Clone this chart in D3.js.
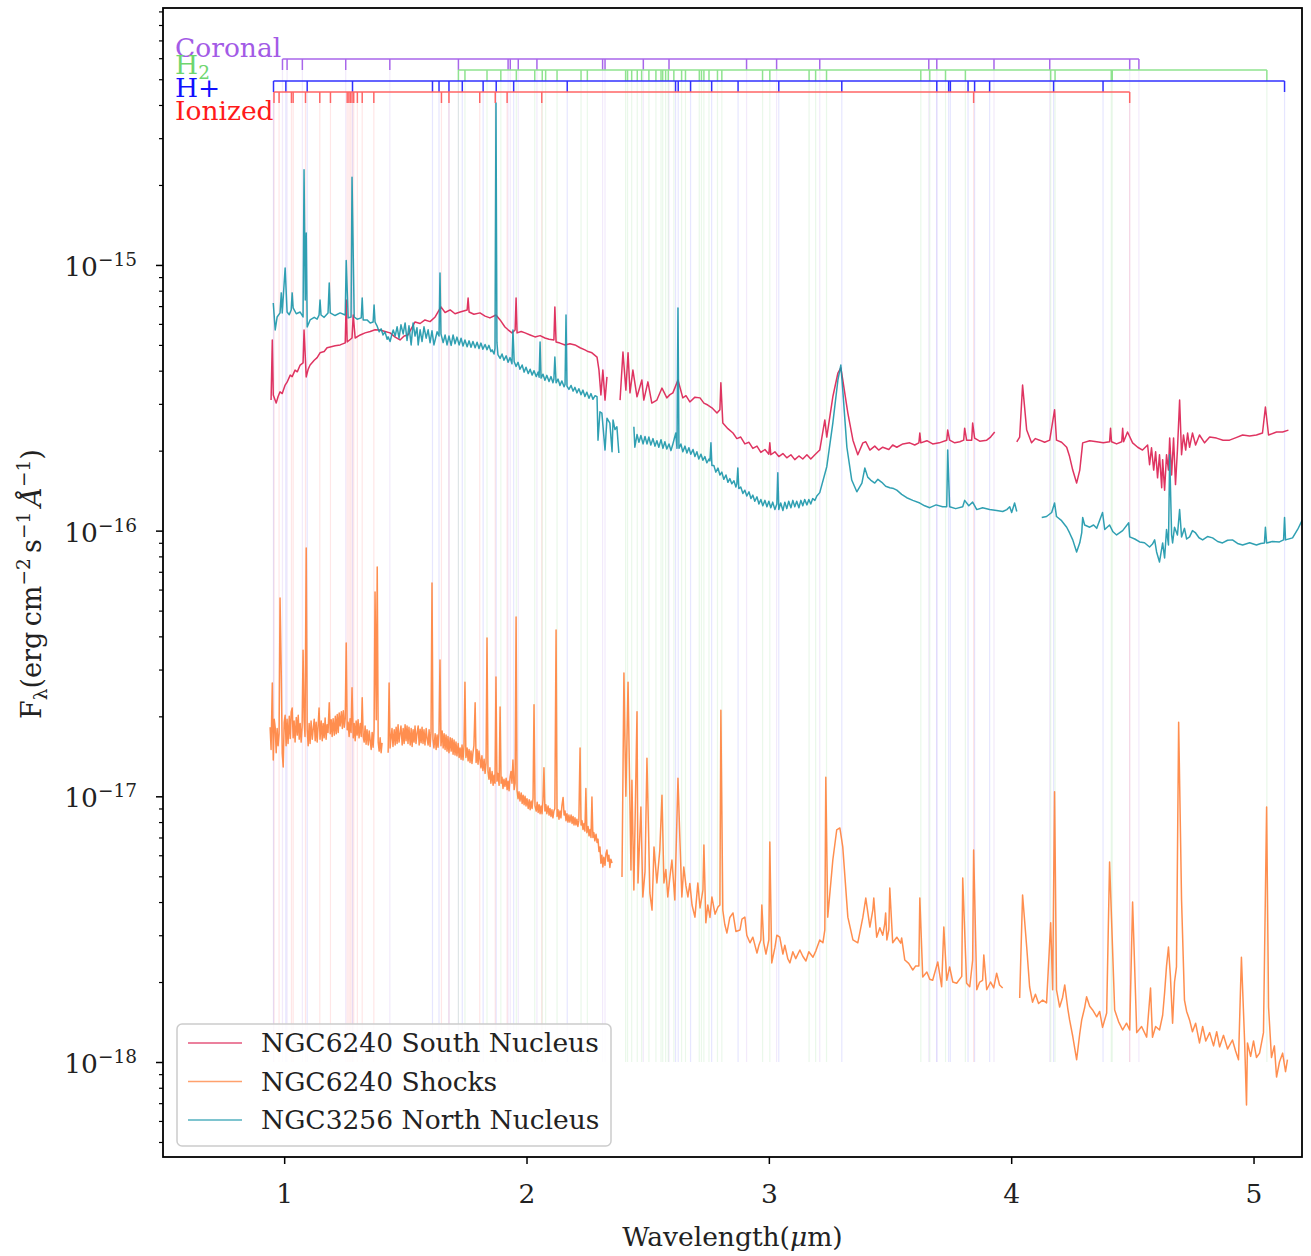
<!DOCTYPE html>
<html><head><meta charset="utf-8">
<script src="https://cdn.jsdelivr.net/npm/d3@7"></script>
<style>body{margin:0;background:#fff}svg{display:block}text{font-family:'DejaVu Serif',serif}</style>
</head><body><svg id="c" width="1311" height="1256"></svg>
<script>
// ---------- DATA ----------
const xDomain = [0.5, 5.2];
const yDomain = [4.39e-19, 9.27e-15];
const xTicks = [1, 2, 3, 4, 5];
const yMajorTicks = [1e-18, 1e-17, 1e-16, 1e-15];
const yTickExponents = ["\u221218", "\u221217", "\u221216", "\u221215"];
const seriesNames = ["NGC6240 South Nucleus", "NGC6240 Shocks", "NGC3256 North Nucleus"];
const lineGroupNames = ["Coronal", "H2", "H+", "Ionized"];

const southNucleus = [[0.946,3.10e-16],[0.951,5.22e-16],[0.955,3.24e-16],[0.967,3.02e-16],[0.975,3.20e-16],[0.983,3.33e-16],[0.992,3.28e-16],[1.004,3.53e-16],[1.012,3.62e-16],[1.025,3.85e-16],[1.033,3.80e-16],[1.045,4.02e-16],[1.054,3.96e-16],[1.066,4.20e-16],[1.078,4.28e-16],[1.082,5.69e-16],[1.091,3.79e-16],[1.099,4.05e-16],[1.107,4.20e-16],[1.124,4.38e-16],[1.136,4.48e-16],[1.148,4.67e-16],[1.165,4.72e-16],[1.177,4.88e-16],[1.190,4.91e-16],[1.210,4.96e-16],[1.231,5.00e-16],[1.252,5.09e-16],[1.256,7.38e-16],[1.260,5.13e-16],[1.280,5.31e-16],[1.285,6.48e-16],[1.293,5.31e-16],[1.314,5.45e-16],[1.334,5.55e-16],[1.355,5.62e-16],[1.375,5.70e-16],[1.396,5.69e-16],[1.416,5.62e-16],[1.437,5.55e-16],[1.458,5.35e-16],[1.478,5.22e-16],[1.495,5.40e-16],[1.511,5.45e-16],[1.524,5.75e-16],[1.540,6.10e-16],[1.561,6.02e-16],[1.581,6.21e-16],[1.602,6.12e-16],[1.623,6.37e-16],[1.647,6.95e-16],[1.664,6.62e-16],[1.685,6.77e-16],[1.705,6.55e-16],[1.726,6.65e-16],[1.755,6.77e-16],[1.759,7.51e-16],[1.763,6.65e-16],[1.783,6.52e-16],[1.808,6.60e-16],[1.829,6.42e-16],[1.849,6.32e-16],[1.874,6.48e-16],[1.891,6.21e-16],[1.911,5.84e-16],[1.924,5.70e-16],[1.940,5.55e-16],[1.953,5.69e-16],[1.957,7.51e-16],[1.961,5.55e-16],[1.978,5.62e-16],[1.994,5.55e-16],[2.015,5.45e-16],[2.035,5.36e-16],[2.056,5.42e-16],[2.076,5.31e-16],[2.093,5.25e-16],[2.113,5.22e-16],[2.117,6.95e-16],[2.122,5.13e-16],[2.138,5.08e-16],[2.159,5.00e-16],[2.179,5.05e-16],[2.200,5.00e-16],[2.221,4.88e-16],[2.241,4.79e-16],[2.254,4.72e-16],[2.270,4.67e-16],[2.291,4.50e-16],[2.299,4.02e-16],[2.307,3.24e-16],[2.315,4.02e-16],[2.324,3.10e-16],[2.332,3.79e-16],null,
[2.386,3.10e-16],[2.398,4.70e-16],[2.410,3.38e-16],[2.419,4.67e-16],[2.427,3.30e-16],[2.439,4.02e-16],[2.456,3.19e-16],[2.476,3.69e-16],[2.484,3.10e-16],[2.501,3.63e-16],[2.517,3.02e-16],[2.538,3.10e-16],[2.559,3.44e-16],[2.579,3.16e-16],[2.592,3.25e-16],[2.604,3.30e-16],[2.625,3.69e-16],[2.645,3.16e-16],[2.658,3.22e-16],[2.674,3.05e-16],[2.695,3.18e-16],[2.716,3.16e-16],[2.732,3.02e-16],[2.748,2.97e-16],[2.765,2.90e-16],[2.786,2.77e-16],[2.798,2.85e-16],[2.802,3.60e-16],[2.810,2.54e-16],[2.831,2.42e-16],[2.852,2.33e-16],[2.868,2.22e-16],[2.884,2.25e-16],[2.901,2.12e-16],[2.918,2.15e-16],[2.934,2.04e-16],[2.951,2.08e-16],[2.967,1.97e-16],[2.984,2.02e-16],[3.000,1.94e-16],[3.004,2.14e-16],[3.008,1.93e-16],[3.025,1.98e-16],[3.041,1.90e-16],[3.058,1.95e-16],[3.074,1.88e-16],[3.091,1.93e-16],[3.107,1.85e-16],[3.124,1.91e-16],[3.140,1.86e-16],[3.157,1.93e-16],[3.173,1.86e-16],[3.190,1.93e-16],[3.210,2.01e-16],[3.231,2.61e-16],[3.239,2.25e-16],[3.264,3.19e-16],[3.285,3.92e-16],[3.297,4.10e-16],[3.305,3.69e-16],[3.326,2.77e-16],[3.347,2.19e-16],[3.367,1.93e-16],[3.388,2.14e-16],[3.400,2.16e-16],[3.417,2.01e-16],[3.437,2.08e-16],[3.453,2.01e-16],[3.470,2.06e-16],[3.495,2.02e-16],[3.511,2.10e-16],[3.528,2.06e-16],[3.553,2.12e-16],[3.581,2.14e-16],[3.602,2.10e-16],[3.619,2.14e-16],[3.623,2.33e-16],[3.627,2.14e-16],[3.652,2.18e-16],[3.676,2.12e-16],[3.703,2.14e-16],[3.734,2.19e-16],[3.738,2.39e-16],[3.746,2.19e-16],[3.767,2.14e-16],[3.788,2.16e-16],[3.804,2.19e-16],[3.808,2.43e-16],[3.816,2.19e-16],[3.837,2.19e-16],[3.841,2.54e-16],[3.849,2.23e-16],[3.870,2.17e-16],[3.899,2.19e-16],[3.915,2.25e-16],[3.932,2.35e-16],null,
[4.023,2.16e-16],[4.035,2.25e-16],[4.047,3.53e-16],[4.064,2.39e-16],[4.084,2.14e-16],[4.100,2.22e-16],[4.117,2.19e-16],[4.138,2.15e-16],[4.159,2.19e-16],[4.179,2.85e-16],[4.187,2.19e-16],[4.208,2.15e-16],[4.229,2.06e-16],[4.241,1.90e-16],[4.254,1.69e-16],[4.270,1.51e-16],[4.283,1.69e-16],[4.295,2.14e-16],[4.324,2.18e-16],[4.353,2.16e-16],[4.380,2.14e-16],[4.406,2.16e-16],[4.410,2.43e-16],[4.414,2.16e-16],[4.435,2.12e-16],[4.456,2.16e-16],[4.460,2.43e-16],[4.464,2.16e-16],[4.480,2.35e-16],[4.501,2.14e-16],[4.522,2.06e-16],[4.542,2.01e-16],[4.563,2.10e-16],[4.571,1.77e-16],[4.579,2.05e-16],[4.588,1.69e-16],[4.596,1.98e-16],[4.604,1.58e-16],[4.612,1.93e-16],[4.621,1.45e-16],[4.625,1.85e-16],[4.633,1.42e-16],[4.641,1.93e-16],[4.649,1.69e-16],[4.654,2.23e-16],[4.662,1.62e-16],[4.670,2.23e-16],[4.678,1.49e-16],[4.686,2.01e-16],[4.695,3.10e-16],[4.703,1.93e-16],[4.711,2.29e-16],[4.720,2.01e-16],[4.728,2.33e-16],[4.736,2.06e-16],[4.748,2.33e-16],[4.761,2.10e-16],[4.777,2.29e-16],[4.798,2.14e-16],[4.819,2.25e-16],[4.847,2.23e-16],[4.874,2.19e-16],[4.901,2.19e-16],[4.928,2.24e-16],[4.955,2.29e-16],[4.984,2.27e-16],[5.012,2.29e-16],[5.037,2.33e-16],[5.049,2.92e-16],[5.062,2.29e-16],[5.095,2.35e-16],[5.120,2.35e-16],[5.144,2.39e-16]];

const shocks = [[0.942,1.82e-17],[0.946,1.50e-17],[0.951,2.67e-17],[0.955,1.37e-17],[0.959,1.95e-17],[0.963,1.82e-17],[0.967,1.46e-17],[0.971,1.80e-17],[0.975,1.55e-17],[0.979,1.72e-17],[0.983,5.58e-17],[0.988,2.91e-17],[0.992,1.45e-17],[0.996,1.29e-17],[1.000,1.90e-17],[1.004,2.02e-17],[1.008,1.55e-17],[1.012,1.95e-17],[1.016,1.58e-17],[1.021,2.00e-17],[1.025,1.65e-17],[1.029,2.08e-17],[1.033,2.15e-17],[1.037,1.66e-17],[1.041,1.92e-17],[1.045,1.60e-17],[1.050,1.98e-17],[1.054,1.70e-17],[1.058,2.02e-17],[1.062,1.64e-17],[1.066,1.88e-17],[1.070,1.60e-17],[1.074,1.82e-17],[1.078,3.55e-17],[1.082,1.94e-17],[1.086,1.68e-17],[1.091,8.61e-17],[1.095,1.78e-17],[1.099,1.55e-17],[1.103,1.88e-17],[1.107,1.58e-17],[1.111,1.92e-17],[1.116,1.64e-17],[1.120,1.80e-17],[1.124,1.95e-17],[1.128,1.62e-17],[1.132,1.90e-17],[1.136,1.60e-17],[1.140,1.84e-17],[1.144,2.15e-17],[1.148,1.64e-17],[1.153,1.92e-17],[1.157,1.62e-17],[1.161,1.88e-17],[1.165,1.66e-17],[1.169,1.97e-17],[1.173,1.64e-17],[1.177,1.86e-17],[1.181,1.74e-17],[1.186,2.25e-17],[1.190,1.72e-17],[1.194,1.94e-17],[1.198,1.68e-17],[1.202,1.96e-17],[1.207,1.70e-17],[1.211,2.00e-17],[1.215,1.72e-17],[1.219,2.03e-17],[1.223,1.74e-17],[1.227,2.06e-17],[1.231,1.84e-17],[1.236,2.08e-17],[1.240,1.80e-17],[1.244,2.10e-17],[1.248,1.82e-17],[1.252,1.96e-17],[1.256,3.78e-17],[1.260,1.78e-17],[1.264,1.90e-17],[1.268,1.68e-17],[1.272,1.96e-17],[1.276,1.74e-17],[1.280,2.56e-17],[1.285,1.66e-17],[1.289,1.88e-17],[1.293,1.62e-17],[1.297,1.92e-17],[1.301,1.70e-17],[1.305,1.94e-17],[1.309,1.66e-17],[1.314,1.88e-17],[1.318,1.68e-17],[1.322,2.35e-17],[1.326,1.68e-17],[1.330,1.60e-17],[1.334,1.84e-17],[1.338,1.57e-17],[1.342,1.78e-17],[1.347,1.56e-17],[1.351,1.76e-17],[1.355,1.62e-17],[1.359,1.50e-17],[1.363,1.74e-17],[1.367,1.53e-17],[1.371,1.78e-17],[1.375,5.87e-17],[1.380,1.94e-17],[1.384,7.30e-17],[1.388,1.60e-17],[1.392,1.48e-17],[1.396,1.66e-17],[1.400,1.46e-17],[1.404,1.59e-17],null,
[1.429,1.46e-17],[1.433,2.67e-17],[1.437,1.52e-17],[1.441,1.66e-17],[1.445,1.80e-17],[1.449,1.54e-17],[1.454,1.78e-17],[1.458,1.56e-17],[1.462,1.82e-17],[1.466,1.58e-17],[1.470,1.86e-17],[1.474,1.60e-17],[1.478,1.72e-17],[1.482,1.84e-17],[1.487,1.56e-17],[1.491,1.80e-17],[1.495,1.58e-17],[1.499,1.86e-17],[1.503,1.62e-17],[1.507,1.84e-17],[1.511,1.58e-17],[1.515,1.82e-17],[1.520,1.56e-17],[1.524,1.80e-17],[1.528,1.54e-17],[1.532,1.78e-17],[1.536,1.60e-17],[1.540,1.84e-17],[1.544,1.58e-17],[1.548,1.72e-17],[1.553,1.84e-17],[1.557,1.56e-17],[1.561,1.79e-17],[1.565,1.59e-17],[1.569,1.82e-17],[1.573,1.58e-17],[1.577,1.78e-17],[1.581,1.56e-17],[1.586,1.80e-17],[1.590,1.64e-17],[1.594,1.56e-17],[1.598,1.78e-17],[1.602,1.54e-17],[1.606,1.74e-17],[1.610,6.35e-17],[1.614,1.64e-17],[1.618,1.52e-17],[1.623,1.72e-17],[1.627,1.50e-17],[1.631,1.70e-17],[1.635,1.53e-17],[1.639,1.74e-17],[1.643,3.26e-17],[1.647,1.55e-17],[1.652,1.76e-17],[1.656,1.52e-17],[1.660,1.72e-17],[1.664,1.50e-17],[1.668,1.70e-17],[1.672,1.48e-17],[1.676,1.68e-17],[1.680,1.46e-17],[1.685,1.66e-17],[1.689,1.48e-17],[1.693,1.65e-17],[1.697,1.44e-17],[1.701,1.63e-17],[1.705,1.43e-17],[1.709,1.60e-17],[1.713,1.42e-17],[1.718,1.58e-17],[1.722,1.40e-17],[1.726,1.52e-17],[1.730,1.38e-17],[1.734,1.56e-17],[1.738,1.37e-17],[1.742,1.55e-17],[1.746,2.69e-17],[1.750,1.40e-17],[1.755,1.52e-17],[1.759,1.36e-17],[1.763,1.50e-17],[1.767,1.34e-17],[1.771,1.48e-17],[1.775,1.33e-17],[1.779,1.46e-17],[1.783,1.55e-17],[1.788,2.25e-17],[1.792,1.34e-17],[1.796,1.50e-17],[1.800,1.32e-17],[1.804,1.48e-17],[1.808,1.38e-17],[1.812,1.28e-17],[1.816,1.42e-17],[1.820,1.25e-17],[1.825,1.38e-17],[1.829,1.22e-17],[1.833,1.33e-17],[1.837,3.94e-17],[1.841,1.24e-17],[1.845,1.16e-17],[1.849,1.28e-17],[1.853,1.12e-17],[1.858,1.24e-17],[1.862,1.10e-17],[1.866,1.20e-17],[1.870,1.12e-17],[1.874,2.81e-17],[1.878,1.14e-17],[1.882,1.22e-17],[1.887,1.10e-17],[1.891,2.17e-17],[1.895,1.12e-17],[1.899,1.18e-17],[1.903,1.07e-17],[1.907,1.16e-17],[1.911,1.09e-17],[1.916,1.17e-17],[1.920,1.06e-17],[1.924,1.14e-17],[1.928,1.05e-17],[1.932,1.18e-17],[1.936,1.24e-17],[1.940,1.12e-17],[1.944,1.37e-17],[1.949,1.06e-17],[1.953,1.12e-17],[1.957,4.73e-17],[1.961,1.05e-17],[1.965,9.80e-18],[1.969,1.04e-17],[1.973,9.60e-18],[1.978,1.03e-17],[1.982,9.40e-18],[1.986,1.01e-17],[1.990,9.30e-18],[1.994,1.00e-17],[1.998,9.20e-18],[2.002,9.80e-18],[2.007,9.00e-18],[2.011,9.70e-18],[2.015,8.90e-18],[2.019,9.60e-18],[2.023,9.00e-18],[2.027,9.86e-18],[2.031,2.21e-17],[2.035,9.20e-18],[2.040,8.80e-18],[2.044,9.50e-18],[2.048,8.70e-18],[2.052,9.30e-18],[2.056,8.60e-18],[2.060,9.20e-18],[2.064,8.60e-18],[2.068,9.69e-18],[2.072,1.28e-17],[2.076,8.80e-18],[2.080,9.30e-18],[2.084,8.60e-18],[2.089,9.20e-18],[2.093,8.50e-18],[2.097,9.00e-18],[2.101,8.40e-18],[2.105,8.90e-18],[2.109,8.30e-18],[2.113,8.80e-18],[2.117,9.00e-18],[2.122,4.23e-17],[2.126,8.40e-18],[2.130,8.90e-18],[2.134,8.20e-18],[2.138,8.80e-18],[2.142,8.30e-18],[2.146,9.20e-18],[2.151,9.90e-18],[2.155,8.50e-18],[2.159,8.80e-18],[2.163,8.10e-18],[2.167,8.60e-18],[2.171,8.00e-18],[2.175,8.50e-18],[2.179,8.00e-18],[2.184,8.50e-18],[2.188,7.90e-18],[2.192,8.40e-18],[2.196,7.80e-18],[2.200,8.30e-18],[2.204,7.80e-18],[2.208,8.20e-18],[2.212,7.70e-18],[2.216,8.10e-18],[2.221,1.52e-17],[2.225,7.80e-18],[2.229,8.10e-18],[2.233,7.50e-18],[2.237,7.90e-18],[2.241,7.40e-18],[2.245,1.07e-17],[2.249,7.30e-18],[2.254,7.70e-18],[2.258,7.10e-18],[2.262,7.50e-18],[2.266,7.00e-18],[2.270,9.94e-18],[2.274,7.00e-18],[2.278,7.30e-18],[2.282,6.80e-18],[2.287,7.20e-18],[2.291,6.70e-18],[2.295,6.90e-18],[2.299,6.20e-18],[2.303,6.45e-18],[2.307,5.60e-18],[2.311,6.00e-18],[2.315,5.42e-18],[2.319,5.90e-18],[2.324,5.50e-18],[2.328,6.10e-18],[2.332,6.28e-18],[2.336,5.70e-18],[2.340,6.00e-18],[2.344,5.40e-18],[2.348,5.80e-18],[2.353,5.61e-18],null,
[2.394,4.97e-18],[2.402,2.91e-17],[2.406,1.63e-17],[2.410,1.00e-17],[2.419,2.69e-17],[2.431,5.28e-18],[2.435,1.15e-17],[2.443,4.44e-18],[2.456,2.08e-17],[2.460,4.72e-18],[2.472,9.12e-18],[2.480,4.18e-18],[2.489,5.20e-18],[2.497,1.39e-17],[2.509,4.33e-18],[2.518,3.73e-18],[2.526,6.45e-18],[2.538,4.72e-18],[2.550,6.28e-18],[2.559,1.01e-17],[2.567,4.72e-18],[2.575,5.30e-18],[2.583,4.18e-18],[2.592,5.00e-18],[2.600,5.76e-18],[2.612,4.07e-18],[2.625,1.17e-17],[2.633,6.85e-18],[2.641,4.18e-18],[2.649,5.42e-18],[2.658,4.60e-18],[2.666,4.18e-18],[2.674,4.70e-18],[2.683,3.90e-18],[2.695,3.51e-18],[2.707,4.72e-18],[2.716,3.80e-18],[2.728,4.44e-18],[2.732,6.56e-18],[2.740,3.34e-18],[2.748,3.90e-18],[2.757,3.50e-18],[2.765,4.18e-18],[2.778,3.60e-18],[2.790,3.83e-18],[2.798,3.90e-18],[2.802,2.11e-17],[2.810,3.73e-18],[2.818,3.30e-18],[2.827,3.06e-18],[2.839,3.50e-18],[2.852,3.64e-18],[2.864,3.10e-18],[2.881,3.14e-18],[2.889,3.45e-18],[2.901,3.51e-18],[2.909,3.00e-18],[2.922,2.81e-18],[2.934,2.95e-18],[2.951,2.57e-18],[2.959,2.75e-18],[2.967,2.88e-18],[2.971,3.90e-18],[2.979,2.81e-18],[2.988,2.55e-18],[3.000,2.88e-18],[3.004,6.73e-18],[3.012,2.36e-18],[3.025,2.70e-18],[3.033,3.00e-18],[3.045,2.95e-18],[3.058,2.55e-18],[3.066,2.75e-18],[3.078,2.45e-18],[3.087,2.36e-18],[3.099,2.60e-18],[3.111,2.45e-18],[3.128,2.64e-18],[3.140,2.50e-18],[3.153,2.40e-18],[3.165,2.60e-18],[3.182,2.48e-18],[3.194,2.62e-18],[3.210,2.88e-18],[3.223,2.81e-18],[3.231,3.14e-18],[3.235,1.18e-17],[3.243,3.51e-18],[3.264,5.76e-18],[3.280,7.47e-18],[3.293,7.60e-18],[3.305,6.45e-18],[3.326,3.51e-18],[3.347,2.88e-18],[3.367,2.81e-18],[3.388,3.51e-18],[3.400,4.14e-18],[3.417,3.22e-18],[3.429,3.73e-18],[3.433,4.14e-18],[3.445,2.95e-18],[3.458,3.20e-18],[3.470,3.00e-18],[3.478,3.30e-18],[3.482,3.64e-18],[3.487,2.88e-18],[3.495,3.14e-18],[3.499,4.52e-18],[3.511,2.81e-18],[3.528,2.95e-18],[3.544,2.80e-18],[3.548,2.93e-18],[3.561,2.42e-18],[3.577,2.35e-18],[3.594,2.22e-18],[3.606,2.30e-18],[3.619,2.30e-18],[3.623,4.14e-18],[3.635,2.09e-18],[3.652,2.18e-18],[3.664,2.05e-18],[3.676,2.03e-18],[3.697,2.38e-18],[3.713,1.92e-18],[3.722,3.22e-18],[3.734,2.03e-18],[3.746,2.28e-18],[3.759,2.00e-18],[3.775,1.98e-18],[3.796,2.10e-18],[3.800,4.93e-18],[3.816,1.98e-18],[3.829,1.92e-18],[3.841,2.42e-18],[3.845,6.28e-18],[3.858,1.87e-18],[3.870,2.00e-18],[3.882,2.03e-18],[3.887,2.53e-18],[3.899,1.87e-18],[3.915,2.00e-18],[3.928,1.90e-18],[3.940,2.16e-18],[3.952,1.95e-18],[3.965,1.90e-18],null,
[4.035,1.74e-18],[4.047,4.25e-18],[4.064,2.71e-18],[4.076,1.92e-18],[4.088,1.68e-18],[4.100,1.80e-18],[4.113,1.66e-18],[4.130,1.71e-18],[4.146,1.67e-18],[4.163,3.34e-18],[4.171,1.87e-18],[4.179,1.04e-17],[4.187,1.87e-18],[4.200,1.61e-18],[4.212,1.75e-18],[4.221,1.95e-18],[4.233,1.60e-18],[4.241,1.44e-18],[4.254,1.25e-18],[4.270,1.02e-18],[4.283,1.28e-18],[4.291,1.44e-18],[4.303,1.60e-18],[4.311,1.76e-18],[4.324,1.62e-18],[4.336,1.57e-18],[4.353,1.48e-18],[4.365,1.55e-18],[4.377,1.35e-18],[4.394,1.53e-18],[4.406,5.66e-18],[4.427,1.57e-18],[4.443,1.42e-18],[4.460,1.32e-18],[4.476,1.40e-18],[4.489,1.32e-18],[4.501,4.00e-18],[4.518,1.29e-18],[4.538,1.36e-18],[4.559,1.24e-18],[4.575,1.90e-18],[4.583,1.24e-18],[4.596,1.36e-18],[4.612,1.32e-18],[4.625,1.50e-18],[4.633,1.82e-18],[4.641,2.30e-18],[4.649,2.71e-18],[4.657,2.10e-18],[4.666,1.40e-18],[4.674,2.00e-18],[4.682,2.28e-18],[4.691,1.90e-17],[4.703,4.07e-18],[4.715,1.71e-18],[4.724,1.55e-18],[4.736,1.44e-18],[4.748,1.30e-18],[4.761,1.40e-18],[4.777,1.18e-18],[4.790,1.36e-18],[4.803,1.20e-18],[4.819,1.29e-18],[4.835,1.15e-18],[4.848,1.30e-18],[4.860,1.14e-18],[4.876,1.26e-18],[4.893,1.12e-18],[4.913,1.21e-18],[4.926,1.10e-18],[4.938,1.02e-18],[4.950,2.48e-18],[4.963,1.21e-18],[4.971,6.89e-19],[4.975,1.18e-18],[4.988,1.05e-18],[5.000,1.20e-18],[5.012,1.04e-18],[5.025,1.08e-18],[5.041,1.29e-18],[5.054,9.12e-18],[5.062,1.61e-18],[5.074,1.04e-18],[5.086,1.15e-18],[5.095,8.78e-19],[5.107,1.00e-18],[5.120,1.08e-18],[5.132,9.20e-19],[5.140,1.02e-18]];

const northNucleus = [[0.955,7.19e-16],[0.963,5.69e-16],[0.971,6.37e-16],[0.983,6.60e-16],[0.988,7.85e-16],[0.992,6.60e-16],[1.004,9.74e-16],[1.012,6.65e-16],[1.021,6.50e-16],[1.029,6.77e-16],[1.033,7.85e-16],[1.037,6.89e-16],[1.050,6.55e-16],[1.066,6.65e-16],[1.078,6.37e-16],[1.082,2.28e-15],[1.087,7.38e-16],[1.091,1.32e-15],[1.095,5.84e-16],[1.107,6.21e-16],[1.124,6.35e-16],[1.136,6.25e-16],[1.144,6.48e-16],[1.148,7.38e-16],[1.152,6.48e-16],[1.165,6.35e-16],[1.181,6.60e-16],[1.186,8.56e-16],[1.190,6.60e-16],[1.210,6.45e-16],[1.231,6.60e-16],[1.252,6.48e-16],[1.256,1.04e-15],[1.264,6.32e-16],[1.276,6.37e-16],[1.280,2.14e-15],[1.289,6.37e-16],[1.301,6.25e-16],[1.318,6.32e-16],[1.322,7.51e-16],[1.326,6.21e-16],[1.342,6.21e-16],[1.355,6.05e-16],[1.367,6.10e-16],[1.371,7.07e-16],[1.375,6.10e-16],[1.383,5.90e-16],[1.392,5.60e-16],[1.400,5.75e-16],[1.408,5.45e-16],[1.416,5.60e-16],[1.425,5.25e-16],[1.429,5.36e-16],[1.437,5.15e-16],[1.445,5.50e-16],[1.450,5.69e-16],[1.458,5.40e-16],[1.466,5.85e-16],[1.474,5.30e-16],[1.482,5.95e-16],[1.491,5.50e-16],[1.499,6.05e-16],[1.507,5.20e-16],[1.515,5.90e-16],[1.524,5.00e-16],[1.532,6.05e-16],[1.540,5.40e-16],[1.548,5.80e-16],[1.553,5.00e-16],[1.561,5.70e-16],[1.569,5.15e-16],[1.577,5.85e-16],[1.586,5.30e-16],[1.594,5.70e-16],[1.602,5.10e-16],[1.610,5.65e-16],[1.618,5.00e-16],[1.623,5.22e-16],[1.631,5.60e-16],[1.639,5.40e-16],[1.643,9.33e-16],[1.647,5.50e-16],[1.656,5.10e-16],[1.664,5.45e-16],[1.672,5.00e-16],[1.680,5.40e-16],[1.689,4.98e-16],[1.697,5.45e-16],[1.705,5.05e-16],[1.713,5.35e-16],[1.722,5.00e-16],[1.730,5.30e-16],[1.738,4.95e-16],[1.746,5.22e-16],[1.755,4.92e-16],[1.763,5.18e-16],[1.771,4.90e-16],[1.779,5.15e-16],[1.788,4.88e-16],[1.796,5.12e-16],[1.804,4.85e-16],[1.812,5.08e-16],[1.820,4.82e-16],[1.829,5.02e-16],[1.837,4.80e-16],[1.845,4.98e-16],[1.853,4.72e-16],[1.858,4.79e-16],[1.866,4.62e-16],[1.870,4.85e-16],[1.874,4.07e-15],[1.878,5.10e-16],[1.882,4.60e-16],[1.891,4.45e-16],[1.899,4.62e-16],[1.907,4.38e-16],[1.916,4.55e-16],[1.924,4.30e-16],[1.932,4.48e-16],[1.940,4.25e-16],[1.944,5.69e-16],[1.949,4.33e-16],[1.957,4.15e-16],[1.965,4.30e-16],[1.973,4.05e-16],[1.982,4.20e-16],[1.990,3.95e-16],[1.998,4.12e-16],[2.007,3.90e-16],[2.015,4.05e-16],[2.023,3.85e-16],[2.031,4.00e-16],[2.040,3.80e-16],[2.048,3.95e-16],[2.052,3.78e-16],[2.056,5.13e-16],[2.060,3.75e-16],[2.068,3.88e-16],[2.076,3.68e-16],[2.084,3.84e-16],[2.093,3.64e-16],[2.101,3.80e-16],[2.109,3.60e-16],[2.113,3.72e-16],[2.117,4.50e-16],[2.122,3.60e-16],[2.130,3.72e-16],[2.138,3.52e-16],[2.146,3.66e-16],[2.155,3.48e-16],[2.159,3.55e-16],[2.163,6.48e-16],[2.167,3.50e-16],[2.175,3.40e-16],[2.184,3.52e-16],[2.192,3.35e-16],[2.200,3.46e-16],[2.208,3.30e-16],[2.216,3.42e-16],[2.225,3.25e-16],[2.233,3.38e-16],[2.241,3.20e-16],[2.249,3.32e-16],[2.258,3.15e-16],[2.266,3.28e-16],[2.274,3.12e-16],[2.283,3.22e-16],[2.291,3.19e-16],[2.295,2.19e-16],[2.303,2.80e-16],[2.311,2.77e-16],[2.324,2.01e-16],[2.332,2.65e-16],[2.344,2.54e-16],[2.353,1.98e-16],[2.357,2.61e-16],[2.365,2.40e-16],[2.373,2.46e-16],[2.381,1.96e-16],null,
[2.443,2.46e-16],[2.447,2.06e-16],[2.456,2.30e-16],[2.464,2.15e-16],[2.472,2.28e-16],[2.481,2.12e-16],[2.489,2.26e-16],[2.497,2.12e-16],[2.505,2.25e-16],[2.513,2.10e-16],[2.522,2.22e-16],[2.530,2.08e-16],[2.538,2.18e-16],[2.546,2.06e-16],[2.555,2.20e-16],[2.563,2.04e-16],[2.571,2.16e-16],[2.579,2.03e-16],[2.588,2.12e-16],[2.596,2.00e-16],[2.604,2.12e-16],[2.616,2.33e-16],[2.621,2.04e-16],[2.625,6.89e-16],[2.629,2.04e-16],[2.637,2.12e-16],[2.645,1.98e-16],[2.654,2.08e-16],[2.662,1.96e-16],[2.670,2.05e-16],[2.678,1.94e-16],[2.687,2.02e-16],[2.695,1.90e-16],[2.703,1.98e-16],[2.711,1.86e-16],[2.720,1.94e-16],[2.728,1.84e-16],[2.736,1.90e-16],[2.744,1.80e-16],[2.753,1.86e-16],[2.757,1.83e-16],[2.761,2.14e-16],[2.765,1.76e-16],[2.773,1.76e-16],[2.781,1.66e-16],[2.790,1.72e-16],[2.798,1.62e-16],[2.806,1.66e-16],[2.814,1.56e-16],[2.823,1.62e-16],[2.831,1.52e-16],[2.839,1.57e-16],[2.847,1.50e-16],[2.856,1.54e-16],[2.864,1.46e-16],[2.868,1.50e-16],[2.872,1.72e-16],[2.876,1.44e-16],[2.884,1.46e-16],[2.893,1.38e-16],[2.901,1.42e-16],[2.909,1.35e-16],[2.918,1.40e-16],[2.926,1.32e-16],[2.934,1.36e-16],[2.942,1.29e-16],[2.951,1.34e-16],[2.959,1.26e-16],[2.967,1.31e-16],[2.975,1.24e-16],[2.984,1.30e-16],[2.992,1.23e-16],[3.000,1.29e-16],[3.008,1.22e-16],[3.016,1.28e-16],[3.025,1.20e-16],[3.033,1.26e-16],[3.037,1.65e-16],[3.041,1.20e-16],[3.049,1.27e-16],[3.058,1.19e-16],[3.066,1.28e-16],[3.074,1.21e-16],[3.082,1.29e-16],[3.091,1.22e-16],[3.099,1.30e-16],[3.107,1.23e-16],[3.115,1.29e-16],[3.124,1.22e-16],[3.132,1.30e-16],[3.140,1.24e-16],[3.148,1.31e-16],[3.157,1.25e-16],[3.165,1.31e-16],[3.173,1.26e-16],[3.181,1.32e-16],[3.190,1.30e-16],[3.198,1.35e-16],[3.210,1.39e-16],[3.239,1.74e-16],[3.264,2.54e-16],[3.285,3.69e-16],[3.297,4.20e-16],[3.305,3.38e-16],[3.322,2.06e-16],[3.342,1.55e-16],[3.363,1.40e-16],[3.384,1.51e-16],[3.396,1.72e-16],[3.408,1.59e-16],[3.420,1.55e-16],[3.437,1.51e-16],[3.450,1.56e-16],[3.466,1.52e-16],[3.482,1.47e-16],[3.499,1.45e-16],[3.515,1.44e-16],[3.528,1.42e-16],[3.548,1.37e-16],[3.569,1.33e-16],[3.594,1.30e-16],[3.623,1.27e-16],[3.643,1.24e-16],[3.664,1.22e-16],[3.690,1.25e-16],[3.717,1.23e-16],[3.734,1.23e-16],[3.738,2.01e-16],[3.746,1.23e-16],[3.771,1.21e-16],[3.800,1.23e-16],[3.808,1.30e-16],[3.825,1.24e-16],[3.841,1.28e-16],[3.858,1.20e-16],[3.882,1.22e-16],[3.911,1.20e-16],[3.940,1.19e-16],[3.965,1.18e-16],[3.982,1.20e-16],[3.994,1.23e-16],[4.002,1.17e-16],[4.014,1.27e-16],[4.023,1.18e-16],null,
[4.126,1.12e-16],[4.146,1.13e-16],[4.167,1.17e-16],[4.179,1.27e-16],[4.187,1.13e-16],[4.208,1.09e-16],[4.229,1.03e-16],[4.241,9.80e-17],[4.254,9.23e-17],[4.270,8.31e-17],[4.283,9.00e-17],[4.291,9.80e-17],[4.295,1.12e-16],[4.303,1.05e-16],[4.324,1.03e-16],[4.340,1.05e-16],[4.353,1.02e-16],[4.377,1.17e-16],[4.386,1.01e-16],[4.406,1.05e-16],[4.420,9.90e-17],[4.435,9.63e-17],[4.460,1.00e-16],[4.485,1.07e-16],[4.489,9.47e-17],[4.510,9.30e-17],[4.530,9.07e-17],[4.550,9.00e-17],[4.571,8.68e-17],[4.583,8.90e-17],[4.592,9.23e-17],[4.600,8.31e-17],[4.612,7.62e-17],[4.625,8.99e-17],[4.633,7.89e-17],[4.641,1.01e-16],[4.649,8.83e-17],[4.654,1.93e-16],[4.662,9.63e-17],[4.666,8.99e-17],[4.674,1.03e-16],[4.686,9.63e-17],[4.695,1.20e-16],[4.703,9.47e-17],[4.715,1.02e-16],[4.724,9.30e-17],[4.736,9.47e-17],[4.748,1.00e-16],[4.761,9.80e-17],[4.775,9.40e-17],[4.790,9.23e-17],[4.810,9.50e-17],[4.831,9.39e-17],[4.852,9.10e-17],[4.872,8.99e-17],[4.893,9.20e-17],[4.913,9.23e-17],[4.934,8.95e-17],[4.955,8.83e-17],[4.984,9.00e-17],[5.012,8.83e-17],[5.030,8.95e-17],[5.045,8.99e-17],[5.049,1.03e-16],[5.054,8.99e-17],[5.078,9.10e-17],[5.107,9.07e-17],[5.124,9.23e-17],[5.128,1.12e-16],[5.132,9.23e-17],[5.161,9.39e-17],[5.182,1.01e-16],[5.202,1.10e-16]];

// line lists (µm)
const coronalLines = [0.993,1.012,1.075,1.254,1.436,1.719,1.924,1.933,1.966,2.043,2.314,2.324,2.482,2.588,2.908,3.032,3.210,3.660,3.693,3.929,4.159,4.489,4.527];
const h2Lines = [1.719,1.746,1.837,1.894,1.958,2.034,2.065,2.079,2.126,2.225,2.251,2.409,2.417,2.434,2.457,2.475,2.505,2.534,2.555,2.562,2.574,2.585,2.608,2.640,2.656,2.713,2.722,2.732,2.753,2.788,2.806,2.974,3.004,3.166,3.193,3.238,3.627,3.664,3.729,3.811,4.163,4.181,4.413,4.417,5.055];
const hPlusLines = [0.956,1.007,1.095,1.282,1.612,1.639,1.680,1.735,1.821,1.875,1.947,2.168,2.615,2.626,2.677,2.764,2.873,3.041,3.301,3.693,3.742,3.749,3.822,3.849,3.911,4.175,4.379,5.128];
const ionizedLines = [0.958,0.979,1.030,1.037,1.088,1.147,1.191,1.260,1.267,1.273,1.280,1.287,1.302,1.322,1.370,1.649,1.680,1.807,1.871,1.920,2.063,3.845,4.489];
const vlineFloor = 1e-18;

// ---------- LAYOUT / STYLE ----------
const M = {left:163, top:8, right:1302, bottom:1157};
const FS = 26.5, FSsup = 18.5;
const seriesColors = ["#dc1e50", "#ff823c", "#1a96aa"];
const groupStyle = [
  {label:"#a35be6", row:"#a866ea", faint:"#9b59e0", rowY:59, labelY:57},
  {label:"#6ed66e", row:"#8fe38f", faint:"#5ccc5c", rowY:70, labelY:74},
  {label:"#1010ff", row:"#3030ff", faint:"#4040ff", rowY:81, labelY:97},
  {label:"#ff1a1a", row:"#ff6464", faint:"#ff4040", rowY:92, labelY:120}
];
const tickLen = 11;

const svg = d3.select("#c");
const x = d3.scaleLinear().domain(xDomain).range([M.left, M.right]);
const y = d3.scaleLog().domain(yDomain).range([M.bottom, M.top]);

svg.append("defs").append("clipPath").attr("id","clip").append("rect")
  .attr("x",M.left).attr("y",M.top).attr("width",M.right-M.left).attr("height",M.bottom-M.top);

const plot = svg.append("g").attr("clip-path","url(#clip)");

const groups = [coronalLines, h2Lines, hPlusLines, ionizedLines];
groups.forEach((lines, gi) => {
  const st = groupStyle[gi];
  plot.append("g").selectAll("line").data(lines).join("line")
    .attr("x1", d => x(d)).attr("x2", d => x(d))
    .attr("y1", st.rowY + tickLen).attr("y2", y(vlineFloor))
    .attr("stroke", st.faint).attr("stroke-opacity", 0.13).attr("stroke-width", 1.2);
});

const lineGen = d3.line().defined(d => d).x(d => x(d[0])).y(d => y(d[1]));
const seriesData = [southNucleus, shocks, northNucleus];
seriesData.forEach((data, i) => {
  plot.append("path").datum(data).attr("d", lineGen)
    .attr("fill","none").attr("stroke", seriesColors[i])
    .attr("stroke-width", 1.5).attr("stroke-opacity", 0.9).attr("stroke-linejoin","round");
});

groups.forEach((lines, gi) => {
  const st = groupStyle[gi];
  const g = plot.append("g");
  const ext = d3.extent(lines);
  g.append("line").attr("x1", x(ext[0])).attr("x2", x(ext[1]))
    .attr("y1", st.rowY).attr("y2", st.rowY)
    .attr("stroke", st.row).attr("stroke-width", 1.5);
  g.selectAll("line.t").data(lines).join("line").attr("class","t")
    .attr("x1", d => x(d)).attr("x2", d => x(d))
    .attr("y1", st.rowY).attr("y2", st.rowY + tickLen)
    .attr("stroke", st.row).attr("stroke-width", 1.5);
});

const lab = svg.append("g").attr("font-size", FS);
lab.append("text").attr("x",175).attr("y",groupStyle[0].labelY).attr("fill",groupStyle[0].label).text(lineGroupNames[0]);
const h2t = lab.append("text").attr("x",175).attr("y",groupStyle[1].labelY).attr("fill",groupStyle[1].label);
h2t.append("tspan").text("H");
h2t.append("tspan").attr("font-size",FSsup).attr("dy",5).text("2");
lab.append("text").attr("x",175).attr("y",groupStyle[2].labelY).attr("fill",groupStyle[2].label).text(lineGroupNames[2]);
lab.append("text").attr("x",175).attr("y",groupStyle[3].labelY).attr("fill",groupStyle[3].label).text(lineGroupNames[3]);

const xAxis = svg.append("g").attr("transform",`translate(0,${M.bottom})`)
  .call(d3.axisBottom(x).tickValues(xTicks).tickSize(7).tickPadding(20).tickFormat(d3.format("d")));
xAxis.select(".domain").remove();
xAxis.selectAll("line").attr("stroke","#000").attr("stroke-width",1.5);
xAxis.selectAll("text").attr("font-size",FS).attr("font-family","'DejaVu Serif',serif").attr("fill","#222");

const minors = [];
for (let e=-19;e<=-15;e++) for (let k=2;k<=9;k++){ const v=k*Math.pow(10,e); if(v>yDomain[0]&&v<yDomain[1]) minors.push(v); }
const yMinor = svg.append("g").attr("transform",`translate(${M.left},0)`)
  .call(d3.axisLeft(y).tickValues(minors).tickSize(4).tickFormat(""));
yMinor.select(".domain").remove();
yMinor.selectAll("line").attr("stroke","#000").attr("stroke-width",1.2);
const yMajor = svg.append("g").attr("transform",`translate(${M.left},0)`)
  .call(d3.axisLeft(y).tickValues(yMajorTicks).tickSize(7).tickFormat(""));
yMajor.select(".domain").remove();
yMajor.selectAll("line").attr("stroke","#000").attr("stroke-width",1.5);
yMajorTicks.forEach((v,i) => {
  const t = svg.append("text").attr("x",137).attr("y",y(v)+11).attr("text-anchor","end")
    .attr("font-size",FS).attr("fill","#222");
  t.append("tspan").text("10");
  t.append("tspan").attr("font-size",FSsup).attr("dy",-10).text(yTickExponents[i]);
});

svg.append("rect").attr("x",M.left).attr("y",M.top).attr("width",M.right-M.left).attr("height",M.bottom-M.top)
  .attr("fill","none").attr("stroke","#000").attr("stroke-width",1.8);

const xl = svg.append("text").attr("x",(M.left+M.right)/2).attr("y",1246).attr("text-anchor","middle")
  .attr("font-size",FS).attr("fill","#222");
xl.append("tspan").text("Wavelength(");
xl.append("tspan").attr("font-style","italic").text("\u03bc");
xl.append("tspan").text("m)");

const yl = svg.append("text").attr("transform","translate(41,584) rotate(-90)").attr("text-anchor","middle")
  .attr("font-size",27).attr("fill","#222");
yl.append("tspan").text("F");
yl.append("tspan").attr("font-size",18.5).attr("dy",6).text("\u03bb");
yl.append("tspan").attr("dy",-6).text("(erg\u2009cm");
yl.append("tspan").attr("font-size",18.5).attr("dy",-11).text("\u22122");
yl.append("tspan").attr("dy",11).text("\u2009s");
yl.append("tspan").attr("font-size",18.5).attr("dy",-11).text("\u22121");
yl.append("tspan").attr("dy",11).attr("font-style","italic").text("\u2009\u00c5");
yl.append("tspan").attr("font-size",18.5).attr("dy",-11).text("\u22121");
yl.append("tspan").attr("dy",11).text(")");

const lg = svg.append("g");
lg.append("rect").attr("x",177).attr("y",1024).attr("width",434).attr("height",122).attr("rx",5)
  .attr("fill","#fff").attr("fill-opacity",0.85).attr("stroke","#cccccc").attr("stroke-width",1.5);
seriesNames.forEach((n,i) => {
  const yy = 1043 + i*38.5;
  lg.append("line").attr("x1",188).attr("x2",242).attr("y1",yy).attr("y2",yy)
    .attr("stroke",seriesColors[i]).attr("stroke-width",1.5).attr("stroke-opacity",0.75);
  lg.append("text").attr("x",261).attr("y",yy).attr("dy","0.35em").attr("font-size",FS).attr("fill","#222").text(n);
});
</script></body></html>
